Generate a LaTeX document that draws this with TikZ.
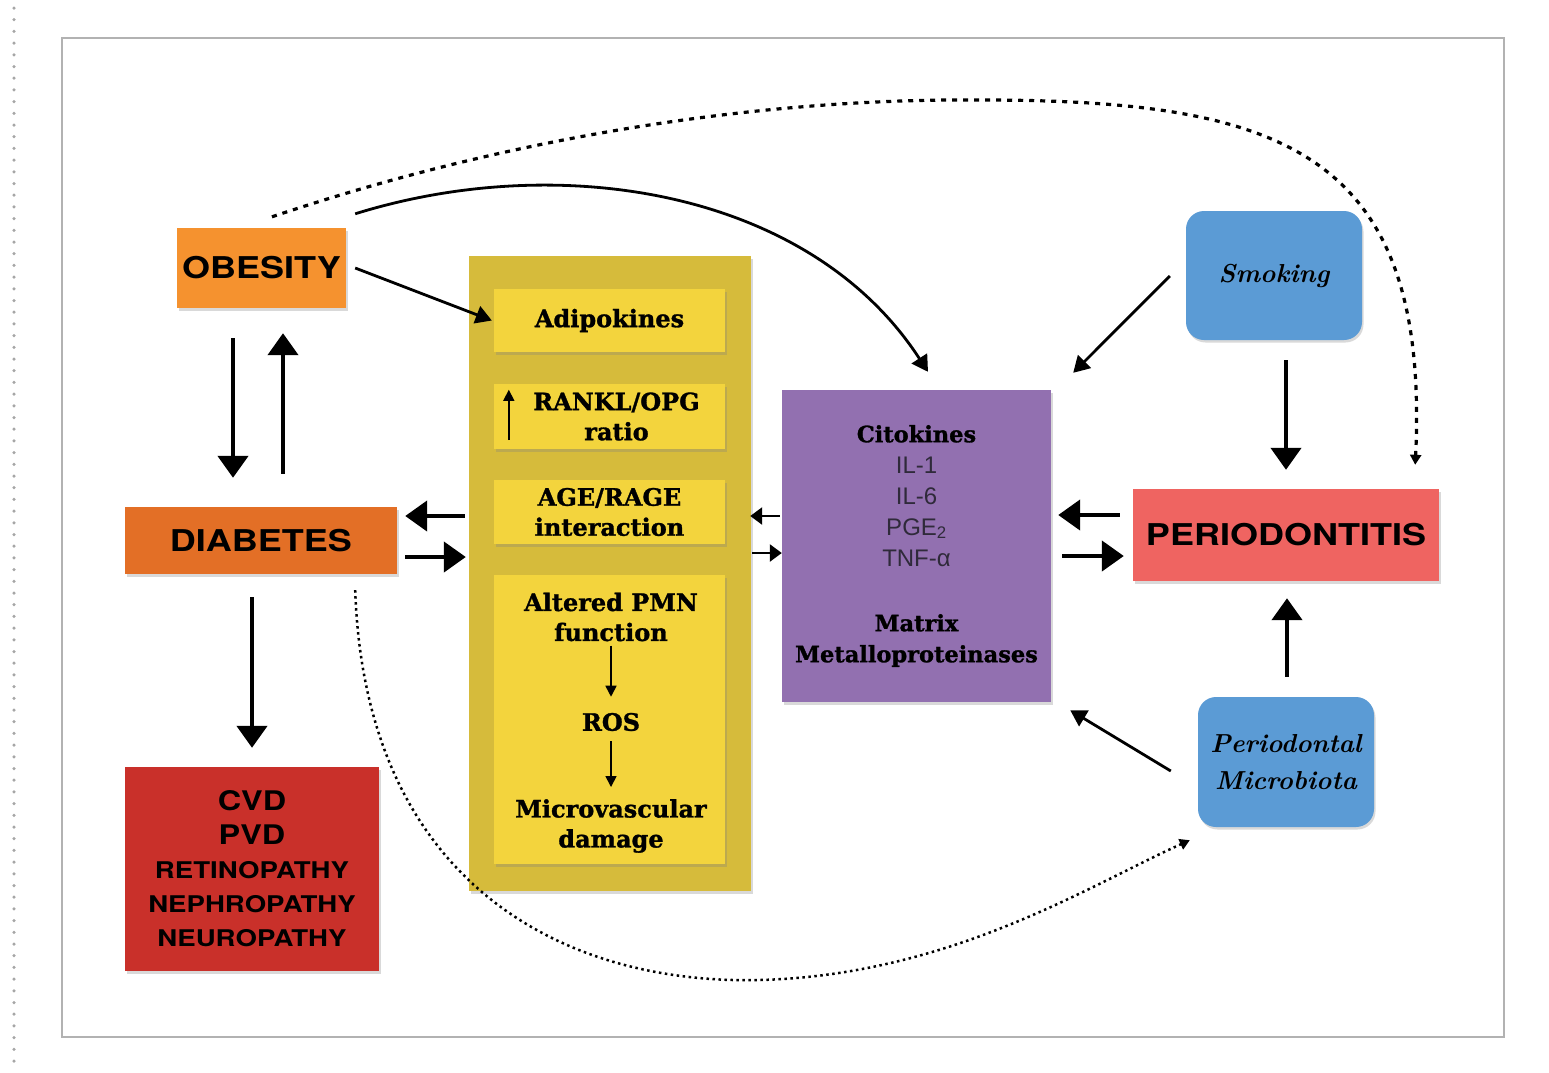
\documentclass[tikz,border=0pt]{standalone}
\usepackage{fontspec}
\newfontfamily\capfont[FakeStretch=1.2]{TeX Gyre Heros}
\newfontfamily\slabfont[BoldFeatures={FakeBold=1.2}]{DejaVu Serif}
\newfontfamily\ilfont{Liberation Sans}
\usetikzlibrary{arrows.meta,shadows,calc}
\definecolor{obcol}{HTML}{F5922F}
\definecolor{diacol}{HTML}{E36F26}
\definecolor{cvdcol}{HTML}{C9302A}
\definecolor{yelout}{HTML}{D6BB3B}
\definecolor{yelin}{HTML}{F3D43D}
\definecolor{purcol}{HTML}{9270B0}
\definecolor{bluecol}{HTML}{5B9BD5}
\definecolor{percol}{HTML}{EF6461}
\definecolor{ilcol}{HTML}{2F2A3A}

\begin{document}
\begin{tikzpicture}[x=1pt, y=-1pt,
	box/.style={inner sep=0pt, align=center, drop shadow={shadow xshift=1.5pt, shadow yshift=-2.5pt, opacity=.3}},
	capf/.style={font=\capfont\bfseries\fontsize{#1}{34}\selectfont},
	slabf/.style={font=\slabfont\bfseries\fontsize{24}{30}\selectfont},
	scriptf/.style={font=\rmfamily\bfseries\itshape\fontsize{26}{37}\selectfont},
	bigarr/.style={line width=4.5pt, -{Triangle[length=22pt, width=30pt]}},
	thinarr/.style={line width=2.8pt, -{Triangle[length=16pt, width=18pt]}},
	smallarr/.style={line width=2.5pt, -{Triangle[length=12pt, width=17pt]}},
	tinyarr/.style={line width=1.6pt, -{Triangle[length=11pt, width=11pt]}},
	dotarr/.style={line width=3.2pt, dash pattern=on 5pt off 6pt, -{Triangle[length=10pt, width=11pt]}}]
	\useasboundingbox (0,0) rectangle (1549,1072); %全体の大きさ
	\draw[gray!70, line width=3.5pt, line cap=round, dash pattern=on 0pt off 11.7pt](14,8)-- (14,1072); %左の点線
	\draw[gray!60, line width=1.5pt](62,38) rectangle (1504,1037); %外枠

	\node[box, capf=30, fill=obcol, minimum width=169pt, minimum height=80pt] (ob) at (261.5,268) {OBESITY}; %肥満
	\node[box, capf=30, fill=diacol, minimum width=272pt, minimum height=67pt] (dia) at (261,540.5) {DIABETES}; %糖尿病
	\node[box, capf=23, fill=cvdcol, minimum width=254pt, minimum height=204pt] (cvd) at (252,869)
		{{\fontsize{27}{34}\selectfont CVD}\\{\fontsize{27}{34}\selectfont PVD}\\RETINOPATHY\\NEPHROPATHY\\NEUROPATHY}; %合併症

	\node[box, fill=yelout, minimum width=282pt, minimum height=635pt] (yel) at (610,573.5) {}; %黄色の大きい箱
	\node[box, slabf, fill=yelin, minimum width=231pt, minimum height=63pt] (adi) at (609.5,320.5) {Adipokines};
	\node[box, slabf, fill=yelin, minimum width=231pt, minimum height=65pt] (rank) at (609.5,416.5) {\hspace*{14pt}RANKL/OPG\\\hspace*{14pt}ratio};
	\node[box, slabf, fill=yelin, minimum width=231pt, minimum height=64pt] (age) at (609.5,512) {AGE/RAGE\\interaction};
	\node[box, fill=yelin, minimum width=231pt, minimum height=289pt] (pmn) at (609.5,719.5) {};
	\node[slabf, align=center, inner sep=0pt] (alt) at (611,617) {Altered PMN\\function};
	\node[slabf, inner sep=0pt] (ros) at (611,722) {ROS};
	\node[slabf, align=center, inner sep=0pt] (micro) at (611,826) {Microvascular\\damage};
	\draw[tinyarr]($(rank.south west)+(15,-9)$)-- ($(rank.north west)+(15,6)$); %上向きの矢印
	\draw[tinyarr](alt.south)++(0,4)-- ($(ros.north)+(0,-16)$);
	\draw[tinyarr](ros.south)++(0,10)-- ($(micro.north)+(0,-12)$);

	\node[box, fill=purcol, minimum width=269pt, minimum height=312pt, font=\slabfont\bfseries\fontsize{22.5}{31}\selectfont] (pur) at (916.5,546)
		{Citokines\\{\ilfont\mdseries\fontsize{24}{31}\selectfont\color{ilcol}IL-1}\\{\ilfont\mdseries\fontsize{24}{31}\selectfont\color{ilcol}IL-6}\\
		 {\ilfont\mdseries\fontsize{24}{31}\selectfont\color{ilcol}PGE\textsubscript{2}}\\{\ilfont\mdseries\fontsize{24}{31}\selectfont\color{ilcol}TNF-α}\\[34pt]
		 Matrix\\Metalloproteinases}; %紫の箱

	\node[box, scriptf, fill=bluecol, rounded corners=18pt, minimum width=176pt, minimum height=129pt] (smk) at (1274,275.5) {Smoking}; %喫煙
	\node[box, capf=30, fill=percol, minimum width=306pt, minimum height=92pt] (per) at (1286,535) {PERIODONTITIS}; %歯周炎
	\node[box, scriptf, fill=bluecol, rounded corners=18pt, minimum width=176pt, minimum height=130pt] (mic) at (1286,762) {Periodontal\\Microbiota}; %細菌

	\draw[bigarr]($(ob.south)+(-28.5,30)$)-- ($(dia.north)+(-28,-29)$); %肥満→糖尿病
	\draw[bigarr]($(dia.north)+(22,-33)$)-- ($(ob.south)+(21.5,25)$); %糖尿病→肥満
	\draw[bigarr]($(dia.south)+(-9,23)$)-- ($(cvd.north)+(0,-19)$); %糖尿病→合併症
	\draw[bigarr]($(yel.west)+(-4,-57.5)$)-- ($(dia.east)+(8,-24.5)$);
	\draw[bigarr]($(dia.east)+(8,16.5)$)-- ($(yel.west)+(-3,-16.5)$);
	\draw[thinarr]($(ob.east)+(9,0)$)-- ($(adi.west)+(-2,0)$); %肥満→アディポカイン
	\draw[thinarr]($(ob.north east)+(9,-14)$).. controls (560,150) and (810,190) .. ($(pur.north)+(11.5,-18)$); %上の曲線
	\draw[smallarr]($(pur.west)+(-2,-30)$)-- ($(yel.east)+(-1,-57.5)$);
	\draw[smallarr]($(yel.east)+(1,-20.5)$)-- ($(pur.west)+(0,7)$);
	\draw[bigarr]($(per.west)+(-13,-20)$)-- ($(pur.east)+(7,-31)$);
	\draw[bigarr]($(pur.east)+(11,10)$)-- ($(per.west)+(-9,21)$);
	\draw[thinarr]($(smk.west)+(-16,0.5)$)-- ($(pur.north east)+(22,-17)$); %喫煙→紫
	\draw[bigarr]($(smk.south)+(12,20)$)-- ($(per.north)+(0,-19)$); %喫煙→歯周炎
	\draw[bigarr]($(mic.north)+(1,-20)$)-- ($(per.south)+(1,17)$); %細菌→歯周炎
	\draw[thinarr]($(mic.west)+(-27,9)$)-- ($(pur.south east)+(19,8)$); %細菌→紫
	\draw[dotarr]($(ob.north)+(10.5,-11)$).. controls (500,140) and (750,98) .. (980,100)
		.. controls (1280,100) and (1430,150) .. ($(per.north east)+(-24,-24)$); %上の点線
	\draw[line width=2.5pt, dash pattern=on 2.5pt off 3.5pt, -{Triangle[length=10pt, width=11pt]}]
		($(dia.south east)+(-42,16)$).. controls (365,880) and (560,985) .. (760,980)
		.. controls (950,975) and (1090,885) .. ($(mic.south west)+(-8,13)$); %下の点線
\end{tikzpicture}
\end{document}
